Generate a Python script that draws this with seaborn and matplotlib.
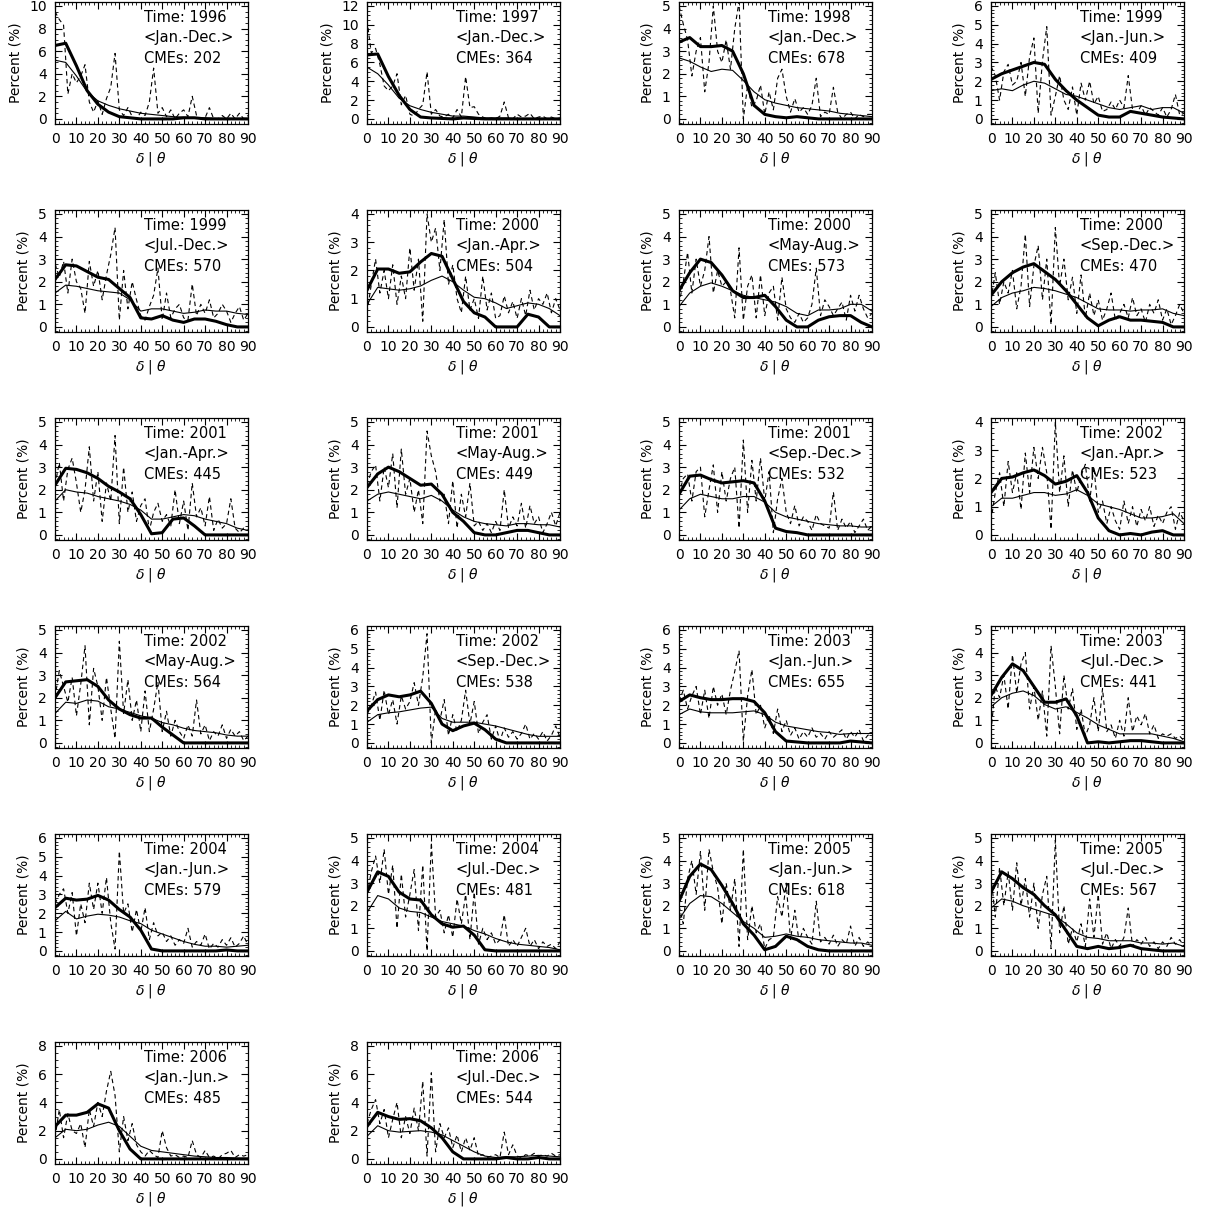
import matplotlib
matplotlib.use("Agg")
import matplotlib.pyplot as plt
import numpy as np
import seaborn as sns
from matplotlib.ticker import MultipleLocator, AutoMinorLocator

# panel labels
years = ["1996", "1997", "1998", "1999", "1999", "2000", "2000", "2000",
         "2001", "2001", "2001", "2002", "2002", "2002", "2003", "2003",
         "2004", "2004", "2005", "2005", "2006", "2006"]
periods = ["<Jan.-Dec.>", "<Jan.-Dec.>", "<Jan.-Dec.>", "<Jan.-Jun.>",
           "<Jul.-Dec.>", "<Jan.-Apr.>", "<May-Aug.>", "<Sep.-Dec.>",
           "<Jan.-Apr.>", "<May-Aug.>", "<Sep.-Dec.>", "<Jan.-Apr.>",
           "<May-Aug.>", "<Sep.-Dec.>", "<Jan.-Jun.>", "<Jul.-Dec.>",
           "<Jan.-Jun.>", "<Jul.-Dec.>", "<Jan.-Jun.>", "<Jul.-Dec.>",
           "<Jan.-Jun.>", "<Jul.-Dec.>"]
cme_counts = [202, 364, 678, 409, 570, 504, 573, 470, 445, 449, 532, 523,
              564, 538, 655, 441, 579, 481, 618, 567, 485, 544]
y_tops = [10, 12, 5, 6, 5, 4, 5, 5, 5, 5, 5, 4, 5, 6, 6, 5, 6, 5, 5, 5, 8, 8]

# angle grids (deg)
angles_smooth = list(range(0, 91, 5))
angles_raw = list(range(0, 91, 2))

# thick line
thick_lines = [
    [6.5, 6.7, 4.7, 2.5, 1.3, 0.6, 0.2, 0.1, 0.0, 0.0, 0.0, 0.0, 0.1, 0.1, 0.0, 0.0, 0.0, 0.0, 0.0],
    [6.8, 6.9, 4.5, 2.5, 1.0, 0.2, 0.1, 0.05, 0.0, 0.1, 0.05, 0.0, 0.0, 0.0, 0.0, 0.0, 0.0, 0.0, 0.0],
    [3.4, 3.6, 3.2, 3.2, 3.25, 3.0, 2.0, 0.6, 0.2, 0.1, 0.05, 0.1, 0.05, 0.0, 0.0, 0.0, 0.0, 0.0, 0.0],
    [2.1, 2.4, 2.6, 2.8, 3.0, 2.9, 2.1, 1.5, 1.0, 0.6, 0.2, 0.1, 0.1, 0.4, 0.3, 0.2, 0.1, 0.05, 0.0],
    [2.1, 2.75, 2.7, 2.45, 2.2, 2.1, 1.7, 1.3, 0.4, 0.35, 0.5, 0.3, 0.2, 0.35, 0.35, 0.25, 0.1, 0.0, 0.0],
    [1.3, 2.05, 2.05, 1.9, 1.95, 2.3, 2.6, 2.5, 1.7, 0.9, 0.5, 0.35, 0.0, 0.0, 0.0, 0.45, 0.35, 0.0, 0.0],
    [1.6, 2.4, 3.0, 2.85, 2.3, 1.6, 1.3, 1.3, 1.4, 0.9, 0.3, 0.0, 0.0, 0.3, 0.45, 0.5, 0.5, 0.2, 0.0],
    [1.4, 2.0, 2.4, 2.65, 2.8, 2.45, 2.1, 1.6, 1.0, 0.4, 0.05, 0.3, 0.45, 0.3, 0.3, 0.25, 0.2, 0.0, 0.0],
    [2.2, 2.95, 2.9, 2.75, 2.5, 2.15, 1.9, 1.6, 0.9, 0.05, 0.1, 0.7, 0.75, 0.4, 0.0, 0.0, 0.0, 0.0, 0.0],
    [2.1, 2.7, 3.0, 2.8, 2.5, 2.2, 2.25, 1.8, 1.0, 0.6, 0.1, 0.0, 0.0, 0.1, 0.2, 0.2, 0.1, 0.0, 0.0],
    [1.8, 2.6, 2.65, 2.45, 2.3, 2.35, 2.4, 2.3, 1.5, 0.3, 0.15, 0.1, 0.0, 0.0, 0.0, 0.0, 0.0, 0.0, 0.0],
    [1.5, 2.0, 2.05, 2.2, 2.3, 2.1, 1.8, 1.9, 2.1, 1.5, 0.6, 0.15, 0.0, 0.05, 0.0, 0.1, 0.15, 0.0, 0.0],
    [2.0, 2.7, 2.75, 2.8, 2.5, 1.9, 1.5, 1.25, 1.1, 1.1, 0.7, 0.35, 0.0, 0.0, 0.0, 0.0, 0.0, 0.0, 0.0],
    [1.7, 2.3, 2.55, 2.45, 2.55, 2.75, 2.1, 1.0, 0.65, 0.9, 1.05, 0.7, 0.2, 0.0, 0.0, 0.0, 0.0, 0.0, 0.0],
    [2.2, 2.55, 2.4, 2.3, 2.3, 2.35, 2.35, 2.2, 1.6, 0.6, 0.1, 0.05, 0.0, 0.0, 0.0, 0.0, 0.1, 0.05, 0.0],
    [2.1, 2.9, 3.5, 3.2, 2.5, 1.8, 1.8, 1.95, 1.2, 0.0, 0.05, 0.0, 0.05, 0.1, 0.1, 0.05, 0.0, 0.0, 0.0],
    [2.3, 2.8, 2.7, 2.75, 2.95, 2.7, 2.2, 1.8, 1.1, 0.1, 0.0, 0.0, 0.0, 0.0, 0.0, 0.0, 0.05, 0.0, 0.0],
    [2.6, 3.5, 3.3, 2.6, 2.3, 2.25, 1.6, 1.2, 1.05, 1.1, 0.7, 0.05, 0.0, 0.0, 0.0, 0.0, 0.0, 0.0, 0.0],
    [2.2, 3.3, 3.85, 3.6, 2.9, 2.1, 1.2, 0.7, 0.05, 0.2, 0.65, 0.5, 0.2, 0.05, 0.0, 0.0, 0.0, 0.0, 0.0],
    [2.6, 3.5, 3.2, 2.8, 2.5, 2.0, 1.6, 0.9, 0.2, 0.1, 0.2, 0.1, 0.15, 0.25, 0.1, 0.05, 0.0, 0.0, 0.0],
    [2.3, 3.1, 3.1, 3.3, 3.9, 3.6, 2.0, 0.7, 0.0, 0.0, 0.0, 0.0, 0.0, 0.0, 0.0, 0.0, 0.0, 0.0, 0.0],
    [2.3, 3.3, 3.0, 2.8, 2.85, 2.7, 2.2, 1.5, 0.5, 0.0, 0.0, 0.0, 0.0, 0.1, 0.0, 0.0, 0.1, 0.0, 0.0],
]

# thin line
thin_lines = [
    [5.2, 5.0, 3.8, 2.4, 1.6, 1.2, 0.9, 0.7, 0.5, 0.4, 0.3, 0.2, 0.15, 0.1, 0.1, 0.05, 0.05, 0.05, 0.05],
    [5.5, 4.8, 3.6, 2.2, 1.4, 1.0, 0.7, 0.5, 0.3, 0.3, 0.2, 0.1, 0.1, 0.1, 0.05, 0.05, 0.05, 0.05, 0.05],
    [2.7, 2.55, 2.3, 2.1, 2.2, 2.15, 1.7, 1.2, 0.85, 0.7, 0.6, 0.5, 0.45, 0.4, 0.35, 0.25, 0.2, 0.15, 0.1],
    [1.5, 1.6, 1.5, 1.8, 2.0, 1.9, 1.6, 1.3, 1.2, 1.0, 0.8, 0.6, 0.5, 0.6, 0.7, 0.5, 0.6, 0.6, 0.3],
    [1.5, 1.85, 1.8, 1.7, 1.6, 1.55, 1.5, 1.2, 0.7, 0.8, 0.8, 0.7, 0.6, 0.65, 0.75, 0.7, 0.7, 0.6, 0.55],
    [0.8, 1.4, 1.35, 1.3, 1.35, 1.45, 1.65, 1.8, 1.6, 1.3, 1.05, 1.0, 0.85, 0.65, 0.75, 0.85, 0.8, 0.65, 0.4],
    [0.9, 1.5, 1.8, 1.95, 1.8, 1.6, 1.4, 1.3, 1.2, 1.1, 0.9, 0.6, 0.5, 0.75, 0.75, 0.8, 1.0, 1.0, 0.7],
    [0.9, 1.3, 1.5, 1.6, 1.75, 1.7, 1.6, 1.45, 1.3, 1.05, 0.8, 0.75, 0.75, 0.7, 0.75, 0.75, 0.8, 0.6, 0.5],
    [1.5, 2.0, 1.9, 1.85, 1.7, 1.6, 1.5, 1.35, 1.1, 0.7, 0.7, 0.8, 0.9, 0.85, 0.7, 0.6, 0.5, 0.3, 0.2],
    [1.5, 1.8, 1.9, 1.8, 1.7, 1.6, 1.75, 1.5, 1.1, 0.8, 0.6, 0.5, 0.45, 0.4, 0.5, 0.5, 0.45, 0.45, 0.35],
    [1.1, 1.6, 1.8, 1.7, 1.6, 1.6, 1.7, 1.7, 1.45, 1.0, 0.8, 0.7, 0.6, 0.5, 0.45, 0.4, 0.4, 0.35, 0.35],
    [1.0, 1.3, 1.3, 1.4, 1.5, 1.5, 1.4, 1.45, 1.6, 1.4, 1.1, 1.0, 0.9, 0.75, 0.6, 0.6, 0.65, 0.75, 0.4],
    [1.3, 1.8, 1.75, 1.9, 1.85, 1.6, 1.5, 1.35, 1.2, 1.1, 0.9, 0.8, 0.65, 0.55, 0.5, 0.45, 0.35, 0.3, 0.3],
    [1.1, 1.5, 1.6, 1.65, 1.75, 1.85, 1.9, 1.3, 1.1, 1.1, 1.1, 1.0, 0.9, 0.75, 0.6, 0.45, 0.35, 0.35, 0.35],
    [1.5, 1.8, 1.65, 1.6, 1.6, 1.6, 1.65, 1.7, 1.5, 1.1, 0.9, 0.8, 0.7, 0.6, 0.55, 0.45, 0.5, 0.5, 0.5],
    [1.6, 2.0, 2.2, 2.3, 2.1, 1.7, 1.5, 1.6, 1.35, 1.1, 0.8, 0.6, 0.4, 0.4, 0.4, 0.4, 0.3, 0.2, 0.05],
    [1.6, 2.1, 1.7, 1.85, 1.95, 1.9, 1.8, 1.6, 1.45, 1.1, 0.9, 0.7, 0.5, 0.35, 0.25, 0.25, 0.2, 0.25, 0.3],
    [1.7, 2.45, 2.3, 1.9, 1.75, 1.7, 1.5, 1.3, 1.2, 1.1, 0.9, 0.75, 0.55, 0.4, 0.3, 0.25, 0.2, 0.15, 0.05],
    [1.4, 2.1, 2.45, 2.4, 2.1, 1.7, 1.3, 1.0, 0.6, 0.65, 0.75, 0.65, 0.6, 0.5, 0.45, 0.4, 0.35, 0.35, 0.25],
    [1.9, 2.3, 2.2, 2.0, 1.85, 1.7, 1.55, 1.2, 0.8, 0.6, 0.55, 0.45, 0.45, 0.45, 0.35, 0.35, 0.3, 0.35, 0.2],
    [1.5, 2.1, 2.0, 2.1, 2.4, 2.6, 2.3, 1.6, 0.9, 0.6, 0.5, 0.4, 0.3, 0.2, 0.15, 0.1, 0.1, 0.05, 0.05],
    [1.6, 2.35, 2.0, 1.9, 1.95, 2.0, 1.9, 1.7, 1.3, 0.9, 0.5, 0.2, 0.1, 0.15, 0.15, 0.2, 0.25, 0.2, 0.15],
]

# dashed raw distribution, every 2 deg
dashed_lines = [
    [9.5, 8.8, 8.3, 2.2, 4.0, 3.2, 3.8, 4.8, 1.5, 0.6,
     1.6, 0.4, 1.8, 2.8, 5.8, 0.8, 0.3, 1.0, 0.2, 0.0,
     0.6, 0.3, 1.5, 4.5, 0.5, 1.0, 0.2, 0.8, 0.0, 0.5,
     0.8, 0.2, 2.0, 0.3, 0.0, 0.1, 1.0, 0.0, 0.0, 0.3,
     0.0, 0.5, 0.0, 0.5, 0.0, 0.3],
    [10.5, 7.0, 7.5, 5.8, 3.5, 3.0, 3.5, 4.8, 1.5, 2.5,
     0.5, 0.3, 1.0, 1.5, 5.0, 0.5, 1.0, 0.3, 0.2, 0.5,
     0.1, 1.0, 0.2, 4.5, 1.2, 1.3, 0.5, 0.2, 0.0, 0.1,
     0.0, 0.3, 1.8, 0.1, 0.0, 0.5, 0.2, 0.3, 0.6, 0.0,
     0.2, 0.3, 0.0, 0.2, 0.0, 0.1],
    [5.0, 4.2, 3.5, 1.9, 3.0, 3.6, 1.2, 2.5, 5.0, 3.0,
     2.5, 3.5, 2.2, 4.0, 5.2, 0.0, 1.5, 0.5, 0.8, 1.5,
     0.2, 1.2, 0.4, 1.8, 2.2, 1.0, 0.3, 0.9, 0.3, 0.5,
     0.2, 0.6, 1.8, 0.1, 0.3, 0.2, 1.4, 0.3, 0.0, 0.2,
     0.3, 0.0, 0.2, 0.1, 0.2, 0.2],
    [2.8, 2.3, 1.0, 2.5, 2.9, 1.8, 2.0, 3.0, 1.2, 3.3,
     4.3, 0.3, 3.1, 4.9, 0.2, 1.2, 2.3, 1.0, 0.5, 1.7,
     0.2, 1.9, 1.0, 2.0, 0.8, 1.2, 0.4, 0.5, 0.9, 0.5,
     1.0, 0.6, 2.3, 0.5, 0.3, 0.7, 0.2, 0.6, 0.4, 0.2,
     0.6, 0.1, 0.5, 1.3, 0.2, 0.3],
    [2.8, 2.2, 2.9, 1.5, 3.0, 2.0, 1.7, 0.6, 2.9, 1.8,
     2.5, 1.2, 2.3, 3.2, 4.4, 0.3, 2.5, 0.8, 2.0, 1.2,
     0.5, 0.3, 0.9, 1.4, 2.6, 0.3, 1.5, 0.4, 0.8, 1.0,
     0.4, 0.3, 1.9, 0.5, 1.0, 0.6, 1.2, 0.4, 0.6, 1.0,
     0.7, 0.2, 0.6, 0.9, 0.3, 0.6],
    [0.5, 1.5, 2.4, 1.2, 2.0, 1.0, 2.2, 0.8, 1.8, 1.0,
     2.8, 1.3, 2.4, 0.2, 4.0, 3.0, 3.5, 2.0, 3.8, 1.5,
     2.2, 1.0, 0.5, 1.8, 0.6, 1.0, 0.3, 1.8, 0.6, 1.2,
     0.3, 0.4, 1.1, 0.5, 0.9, 0.3, 1.0, 0.4, 1.3, 0.6,
     1.0, 0.8, 1.2, 0.5, 1.0, 0.6],
    [1.0, 2.0, 3.3, 1.5, 3.0, 1.8, 2.5, 4.0, 1.5, 2.5,
     1.8, 2.0, 1.6, 0.4, 3.5, 0.3, 1.8, 2.3, 0.4, 2.3,
     0.5, 1.5, 1.8, 0.3, 2.2, 0.8, 0.4, 0.2, 0.6, 0.2,
     0.4, 1.0, 2.6, 0.5, 1.2, 0.9, 0.5, 0.8, 1.1, 0.3,
     1.4, 0.7, 1.4, 0.8, 0.4, 0.6],
    [1.2, 2.4, 1.0, 2.0, 1.5, 2.5, 0.8, 1.8, 4.1, 0.9,
     2.7, 3.6, 1.2, 3.0, 0.1, 4.4, 1.8, 3.0, 1.2, 2.2,
     0.6, 2.3, 0.4, 1.5, 0.5, 1.2, 0.3, 0.8, 1.5, 0.3,
     0.6, 1.0, 0.4, 1.3, 0.5, 0.8, 0.2, 1.0, 0.6, 1.2,
     0.3, 0.8, 0.1, 0.5, 1.0, 0.6],
    [2.2, 3.2, 1.5, 2.9, 3.4, 2.3, 1.0, 2.0, 3.9, 1.5,
     2.8, 0.6, 2.3, 1.5, 4.4, 0.5, 3.0, 1.0, 1.9, 0.6,
     1.3, 1.6, 0.2, 1.0, 1.4, 0.6, 0.9, 0.4, 2.0, 0.5,
     1.5, 0.2, 2.3, 0.8, 1.2, 0.4, 1.7, 0.2, 0.7, 0.3,
     0.5, 1.6, 0.3, 0.1, 0.3, 0.2],
    [2.2, 2.8, 3.1, 1.5, 3.0, 2.1, 3.6, 1.2, 3.8, 1.8,
     2.5, 1.0, 2.0, 0.5, 4.6, 3.5, 2.8, 1.5, 1.8, 0.5,
     2.4, 0.3, 1.8, 0.8, 2.3, 0.4, 0.6, 0.2, 0.5, 0.1,
     0.6, 0.2, 2.0, 0.3, 0.8, 0.4, 1.4, 0.3, 1.3, 0.5,
     0.8, 0.1, 0.5, 1.0, 0.4, 1.0],
    [1.8, 2.5, 2.7, 1.5, 2.8, 3.0, 0.8, 2.0, 3.1, 1.0,
     2.8, 1.5, 2.5, 3.0, 0.3, 4.2, 1.0, 3.3, 1.5, 3.4,
     1.5, 2.8, 0.1, 1.6, 2.5, 1.0, 0.5, 1.3, 0.4, 0.8,
     0.6, 0.2, 0.9, 0.5, 0.4, 0.3, 1.9, 0.2, 0.7, 0.3,
     0.6, 0.1, 0.4, 0.7, 0.2, 0.4],
    [0.5, 1.5, 2.2, 1.0, 2.6, 1.5, 2.2, 0.9, 2.9, 1.5,
     3.1, 2.0, 3.1, 2.2, 0.2, 4.0, 1.5, 2.8, 1.0, 2.3,
     1.5, 2.1, 2.5, 1.2, 2.4, 0.8, 1.2, 0.4, 1.0, 0.5,
     0.2, 1.2, 0.4, 1.0, 0.3, 0.9, 0.5, 1.0, 0.3, 0.7,
     0.4, 0.8, 1.0, 0.2, 0.8, 0.5],
    [2.0, 3.2, 2.5, 1.8, 2.9, 1.2, 2.6, 4.3, 0.8, 3.3,
     2.5, 1.0, 2.9, 1.5, 0.2, 4.5, 1.3, 2.8, 1.0, 1.9,
     0.5, 2.3, 0.5, 1.5, 2.7, 0.5, 1.4, 0.3, 1.0, 0.5,
     0.2, 0.8, 0.3, 1.9, 0.4, 0.8, 0.1, 0.5, 0.3, 0.8,
     0.2, 0.6, 0.3, 0.5, 0.1, 0.3],
    [1.5, 2.0, 2.7, 1.2, 2.8, 1.5, 2.3, 1.0, 2.5, 1.8,
     2.2, 3.2, 2.0, 3.5, 5.8, 0.0, 1.8, 1.2, 2.3, 0.4,
     1.5, 0.6, 1.2, 2.8, 1.0, 2.2, 0.5, 1.1, 1.5, 0.2,
     0.9, 0.1, 0.8, 0.3, 0.6, 0.2, 0.5, 1.0, 0.2, 0.5,
     0.2, 0.6, 0.1, 0.4, 0.9, 0.3],
    [2.2, 2.8, 1.8, 2.5, 3.0, 1.5, 2.8, 1.3, 3.0, 2.0,
     2.6, 1.5, 2.8, 3.8, 4.9, 0.1, 2.5, 3.9, 1.5, 2.0,
     0.8, 1.5, 0.5, 1.8, 0.6, 1.2, 0.4, 0.8, 0.2, 0.6,
     0.3, 0.8, 0.3, 0.5, 0.2, 0.6, 0.3, 0.5, 0.7, 0.2,
     0.6, 0.3, 0.7, 0.1, 0.4, 0.5],
    [0.5, 2.5, 2.0, 3.0, 1.5, 3.9, 2.2, 3.5, 4.0, 1.5,
     2.5, 1.0, 2.3, 0.3, 4.3, 2.5, 0.4, 3.0, 1.5, 2.4,
     0.6, 1.5, 0.3, 0.8, 2.0, 0.5, 2.4, 0.5, 0.8, 0.2,
     1.0, 0.3, 2.0, 0.5, 1.2, 0.8, 1.3, 0.4, 0.8, 0.2,
     0.4, 0.3, 0.4, 0.2, 0.3, 0.1],
    [2.5, 3.0, 3.3, 2.0, 3.1, 0.8, 2.5, 1.5, 3.6, 2.2,
     3.6, 2.0, 3.9, 1.5, 0.1, 5.3, 2.0, 2.5, 1.0, 2.2,
     1.0, 2.3, 0.6, 1.5, 0.8, 1.0, 0.5, 0.8, 0.3, 0.6,
     0.4, 1.2, 0.2, 0.5, 0.3, 0.9, 0.1, 0.4, 0.2, 0.6,
     0.3, 0.7, 0.2, 0.4, 0.8, 0.3],
    [2.5, 3.5, 4.2, 3.0, 4.5, 2.5, 3.8, 1.0, 3.4, 1.5,
     2.5, 3.6, 0.9, 3.8, 0.0, 4.8, 1.5, 1.8, 0.8, 1.6,
     0.6, 2.3, 1.2, 2.5, 0.5, 2.6, 0.3, 1.0, 0.5, 0.8,
     0.3, 0.5, 1.6, 0.2, 0.5, 0.2, 0.6, 1.0, 0.2, 0.5,
     0.1, 0.4, 0.2, 0.3, 0.1, 0.4],
    [2.0, 1.2, 3.2, 4.0, 2.5, 4.4, 1.8, 4.5, 3.5, 2.8,
     1.2, 3.0, 1.8, 3.2, 0.2, 4.5, 0.5, 2.0, 0.8, 1.2,
     0.1, 0.5, 0.6, 2.4, 1.5, 3.0, 0.5, 1.8, 0.4, 1.0,
     0.6, 0.3, 2.2, 0.4, 0.6, 0.3, 0.7, 0.2, 0.5, 0.3,
     1.1, 0.2, 0.6, 0.2, 0.4, 0.2],
    [3.3, 1.5, 3.7, 2.0, 3.5, 1.8, 3.9, 2.0, 3.2, 1.5,
     3.0, 1.0, 2.5, 3.3, 0.1, 4.9, 0.8, 2.0, 0.3, 1.0,
     0.4, 1.2, 0.2, 2.3, 0.6, 2.5, 0.3, 0.8, 0.1, 0.5,
     0.2, 0.6, 1.9, 0.2, 0.5, 0.3, 0.6, 0.2, 0.4, 0.1,
     0.4, 0.2, 0.6, 0.3, 0.5, 0.2],
    [1.5, 3.5, 1.5, 3.2, 2.0, 1.8, 2.5, 0.8, 3.5, 2.3,
     4.0, 3.0, 4.8, 6.2, 4.5, 0.5, 3.0, 1.3, 2.5, 1.0,
     0.5, 0.2, 0.6, 0.3, 0.1, 2.0, 0.8, 0.2, 0.3, 0.1,
     0.2, 0.1, 1.3, 0.3, 0.1, 0.6, 0.1, 0.2, 0.0, 0.3,
     0.4, 0.6, 0.1, 0.3, 0.2, 0.3],
    [2.5, 3.5, 4.2, 2.5, 3.5, 1.5, 2.8, 4.0, 1.5, 3.0,
     1.8, 3.6, 2.0, 5.5, 0.2, 6.1, 0.5, 2.5, 1.5, 2.2,
     0.8, 1.7, 0.5, 1.5, 0.6, 1.5, 0.2, 0.3, 0.1, 0.2,
     0.3, 0.1, 1.9, 0.3, 1.0, 0.2, 0.1, 0.3, 0.2, 0.4,
     0.2, 0.3, 0.2, 0.4, 0.2, 0.3],
]

sns.set_style("ticks", {"xtick.direction": "in", "ytick.direction": "in"})
plt.rcParams["font.family"] = ["DejaVu Sans"]
plt.rcParams["font.size"] = 10
plt.rcParams["text.color"] = "black"
plt.rcParams["axes.labelcolor"] = "black"

W, H = 1207, 1212
fig = plt.figure(figsize=(W / 100, H / 100), dpi=100)

box_w, box_h = 193, 122
for i in range(len(years)):
    r, c = divmod(i, 4)
    left = 55 + 312 * c
    top = 2 + 208 * r
    ax = fig.add_axes([left / W, 1 - (top + box_h) / H, box_w / W, box_h / H])

    sns.lineplot(x=angles_raw, y=dashed_lines[i], ax=ax, color="black",
                 lw=0.8, linestyle=(0, (4, 3)))
    sns.lineplot(x=angles_smooth, y=thin_lines[i], ax=ax, color="black", lw=0.8)
    sns.lineplot(x=angles_smooth, y=thick_lines[i], ax=ax, color="black", lw=2.2)

    yt = y_tops[i]
    ax.set_xlim(0, 90)
    ax.set_ylim(-0.045 * yt, 1.035 * yt)
    ax.xaxis.set_major_locator(MultipleLocator(10))
    ax.xaxis.set_minor_locator(MultipleLocator(2))
    ax.yaxis.set_major_locator(MultipleLocator(2 if yt >= 8 else 1))
    ax.yaxis.set_minor_locator(AutoMinorLocator())
    ax.tick_params(which="both", top=True, right=True, direction="in",
                   colors="black", labelsize=10, pad=6)
    ax.tick_params(which="major", length=5, width=0.8)
    ax.tick_params(which="minor", length=2.5, width=0.6)
    for s in ax.spines.values():
        s.set_linewidth(0.9)
        s.set_color("black")

    ax.set_xlabel(r"$\delta$ | $\theta$", fontsize=10, labelpad=3)
    ax.set_ylabel("Percent (%)", fontsize=10, labelpad=5)

    ax.text(0.46, 0.875, f"Time: {years[i]}", transform=ax.transAxes,
            fontsize=10.5, va="center", ha="left", color="black")
    ax.text(0.46, 0.705, periods[i], transform=ax.transAxes,
            fontsize=10.5, va="center", ha="left", color="black")
    ax.text(0.46, 0.54, f"CMEs: {cme_counts[i]}", transform=ax.transAxes,
            fontsize=10.5, va="center", ha="left", color="black")

fig.savefig("out.png", dpi=100, facecolor="white")
